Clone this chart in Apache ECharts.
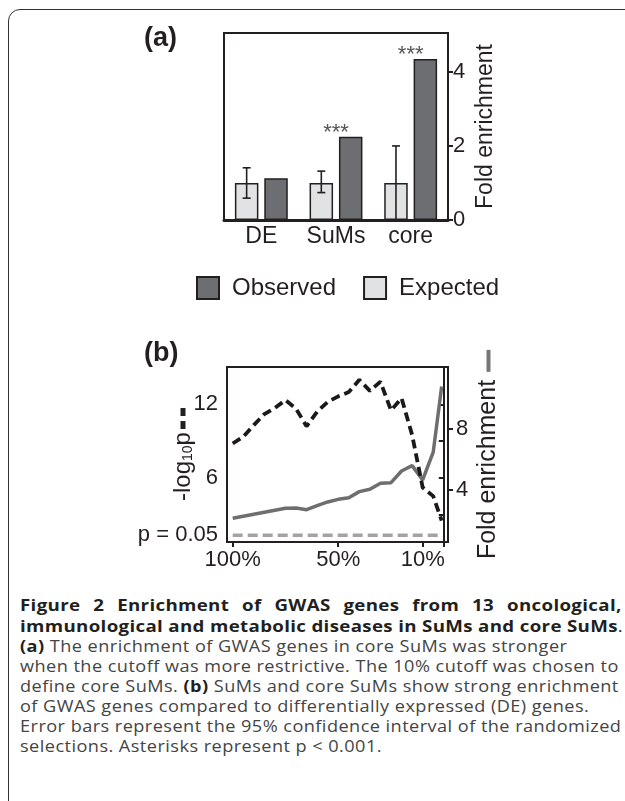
<!DOCTYPE html>
<html><head><meta charset="utf-8">
<script src="https://cdn.jsdelivr.net/npm/echarts@6/dist/echarts.min.js"></script>
<style>
html,body{margin:0;padding:0;background:#fff;width:625px;height:801px;overflow:hidden;position:relative}
#frame{position:absolute;left:7.5px;top:9px;width:720px;height:900px;border:1.6px solid #333;border-radius:12px;box-sizing:border-box}
#chart{position:absolute;left:0;top:0;width:625px;height:590px}
#cap{position:absolute;left:20px;top:594px;width:540px;font-family:'Open Sans',sans-serif;color:#444;transform:scaleX(1.133);transform-origin:0 0}
#cap .b{font-weight:bold;font-size:16.5px;line-height:21px;color:#231f20;width:531px;letter-spacing:0.3px;text-align:justify;text-align-last:justify;white-space:nowrap}
#cap .n{font-size:16px;line-height:20px;letter-spacing:0.4px;white-space:nowrap}
#cap .n b{color:#231f20}
</style></head>
<body>
<div id="frame"></div>
<div id="chart"></div>
<div id="cap">
<div class="b">Figure 2 Enrichment of GWAS genes from 13 oncological,</div>
<div class="b">immunological and metabolic diseases in SuMs and core SuMs<span style="font-weight:normal">.</span></div>
<div class="n"><b>(a)</b> The enrichment of GWAS genes in core SuMs was stronger</div>
<div class="n">when the cutoff was more restrictive. The 10% cutoff was chosen to</div>
<div class="n">define core SuMs. <b>(b)</b> SuMs and core SuMs show strong enrichment</div>
<div class="n">of GWAS genes compared to differentially expressed (DE) genes.</div>
<div class="n">Error bars represent the 95% confidence interval of the randomized</div>
<div class="n">selections. Asterisks represent p &lt; 0.001.</div>
</div>
<script>
// ---- Panel (a) data ----
const categories = ['DE', 'SuMs', 'core'];
const observed = [1.13, 2.25, 4.35];
const expected = [1.0, 1.0, 1.0];
const expectedLow = [0.59, 0.74, 0.0];
const expectedHigh = [1.41, 1.32, 2.0];
const significance = ['', '***', '***'];
const legendNames = ['Observed', 'Expected'];
const foldTicksA = [0, 2, 4];

// ---- Panel (b) data ----
const cutoffs = [100, 95, 90, 85, 80, 75, 70, 65, 60, 55, 50, 45, 40, 35, 30, 25, 20, 15, 10, 5, 1];
const negLogP = [8.8, 9.35, 10.3, 11.2, 11.7, 12.35, 11.65, 10.2, 11.4, 12.2, 12.65, 13.0, 14.0, 13.1, 13.85, 11.5, 12.5, 9.5, 5.2, 4.5, 2.5];
const foldEnrich = [2.13, 2.27, 2.40, 2.53, 2.66, 2.79, 2.81, 2.70, 2.97, 3.21, 3.38, 3.49, 3.89, 4.04, 4.44, 4.48, 5.25, 5.6, 4.66, 6.49, 10.81];
const pThreshold = 1.301;
const cutoffTicks = [100, 50, 10, 0];
const cutoffLabels = [100, 50, 10];
const leftTicks = [3, 6, 9, 12];
const leftLabels = [1.301, 6, 12];
const rightTicks = [4, 8];

const FONT = "'Liberation Sans', Arial, Helvetica, sans-serif";
const INK = '#231f20';
const CLEAR = 'rgba(0,0,0,0)';

const chart = echarts.init(document.getElementById('chart'));
const axisLineStyle = { color: INK, width: 2 };

const option = {
  animation: false,
  textStyle: { fontFamily: FONT, color: INK },
  title: [
    { text: '(a)', left: 144, top: 25, padding: 0, textStyle: { fontFamily: FONT, fontSize: 27, fontWeight: 'bold', color: INK } },
    { text: '(b)', left: 144, top: 340, padding: 0, textStyle: { fontFamily: FONT, fontSize: 27, fontWeight: 'bold', color: INK } }
  ],
  legend: {
    data: legendNames, left: 196, top: 276, padding: 0, icon: 'rect', itemWidth: 22, itemHeight: 22, itemGap: 27,
    textStyle: { fontFamily: FONT, fontSize: 24, color: INK, padding: [0, 0, 0, 8] }
  },
  grid: [
    { left: 224, top: 33, width: 224, height: 187, show: true, borderColor: INK, borderWidth: 2 },
    { left: 227, top: 367, width: 221, height: 175, show: true, borderColor: INK, borderWidth: 2 }
  ],
  xAxis: [
    { type: 'category', gridIndex: 0, data: categories,
      axisLine: { lineStyle: { color: INK, width: 3 } }, axisTick: { show: false },
      axisLabel: { interval: 0, hideOverlap: false, fontSize: 23, color: INK, margin: 5, fontFamily: FONT } },
    { type: 'value', gridIndex: 1, inverse: true, min: -2, max: 102.7,
      axisLine: { lineStyle: axisLineStyle },
      axisTick: { show: true, length: 5, lineStyle: axisLineStyle, customValues: cutoffTicks },
      axisLabel: { customValues: cutoffLabels, formatter: v => v + '%', fontSize: 22, color: INK, margin: 7, fontFamily: FONT },
      splitLine: { show: false } }
  ],
  yAxis: [
    { type: 'value', gridIndex: 0, position: 'right', min: 0, max: 5.05,
      axisLine: { show: true, lineStyle: axisLineStyle },
      axisTick: { show: true, length: 5, lineStyle: axisLineStyle, customValues: foldTicksA },
      axisLabel: { customValues: foldTicksA, fontSize: 22, color: INK, margin: 5, fontFamily: FONT },
      splitLine: { show: false },
      name: 'Fold enrichment', nameLocation: 'middle', nameRotate: 90, nameGap: 26, nameMoveOverlap: false,
      nameTextStyle: { fontSize: 23, color: INK, fontFamily: FONT } },
    { type: 'value', gridIndex: 1, position: 'left', min: 0.75, max: 15.05,
      axisLine: { show: true, lineStyle: axisLineStyle },
      axisTick: { show: true, length: 5, lineStyle: axisLineStyle, customValues: leftTicks },
      axisLabel: { customValues: leftLabels, formatter: v => (v === pThreshold ? 'p = 0.05' : String(v)), fontSize: 22, color: INK, margin: 9, fontFamily: FONT },
      splitLine: { show: false },
      name: '-log{s|10}p{sp|a}{d|a}{sp2|a}{d|a}', nameLocation: 'middle', nameRotate: 90, nameGap: 32, nameMoveOverlap: false,
      nameTextStyle: { fontSize: 24, color: INK, fontFamily: FONT,
        rich: { s: { fontSize: 14, verticalAlign: 'bottom', fontFamily: FONT, color: INK },
                sp: { width: 3, fontSize: 5, color: CLEAR }, sp2: { width: 5, fontSize: 5, color: CLEAR },
                d: { width: 8, height: 5, fontSize: 5, lineHeight: 5, color: CLEAR, backgroundColor: INK, verticalAlign: 'middle' } } } },
    { type: 'value', gridIndex: 1, position: 'right', min: 0.57, max: 12.1,
      axisLine: { show: true, lineStyle: axisLineStyle },
      axisTick: { show: true, length: 5, lineStyle: axisLineStyle, customValues: rightTicks },
      axisLabel: { customValues: rightTicks, fontSize: 22, color: INK, margin: 8, fontFamily: FONT },
      splitLine: { show: false },
      name: 'Fold enrichment{sp|a}{g|a}', nameLocation: 'middle', nameRotate: 90, nameGap: 28, nameMoveOverlap: false,
      nameTextStyle: { fontSize: 25, color: INK, fontFamily: FONT,
        rich: { sp: { width: 8, fontSize: 5, color: CLEAR },
                g: { width: 22, height: 4, fontSize: 4, lineHeight: 4, color: CLEAR, backgroundColor: '#777', verticalAlign: 'middle' } } } }
  ],
  series: [
    { name: 'Expected', type: 'bar', xAxisIndex: 0, yAxisIndex: 0, data: expected,
      barWidth: 23.5, barGap: '25%',
      itemStyle: { color: '#e1e2e4', borderColor: INK, borderWidth: 1.5 } },
    { name: 'Observed', type: 'bar', xAxisIndex: 0, yAxisIndex: 0, data: observed,
      barWidth: 23.5, barGap: '25%',
      itemStyle: { color: '#6d6e71', borderColor: INK, borderWidth: 1.5 } },
    { type: 'custom', xAxisIndex: 0, yAxisIndex: 0, z: 5,
      data: categories.map((c, i) => [i, expectedLow[i], expectedHigh[i], observed[i]]),
      renderItem: function (params, api) {
        const i = api.value(0);
        const lo = api.coord([i, api.value(1)]);
        const hi = api.coord([i, api.value(2)]);
        const ob = api.coord([i, api.value(3)]);
        const layout = api.barLayout({ barWidth: 23.5, barGap: '25%', count: 2 });
        const x = lo[0] + layout[0].offsetCenter;
        const cap = 4;
        const st = { stroke: INK, lineWidth: 1.6 };
        const kids = [
          { type: 'line', shape: { x1: x, y1: lo[1], x2: x, y2: hi[1] }, style: st },
          { type: 'line', shape: { x1: x - cap, y1: hi[1], x2: x + cap, y2: hi[1] }, style: st },
          { type: 'line', shape: { x1: x - cap, y1: lo[1], x2: x + cap, y2: lo[1] }, style: st }
        ];
        if (significance[params.dataIndex]) {
          kids.push({ type: 'text', style: { text: significance[params.dataIndex], x: ob[0], y: ob[1] - 4,
            textAlign: 'center', textVerticalAlign: 'middle', fontSize: 22, fontFamily: FONT, fill: '#555' } });
        }
        return { type: 'group', children: kids };
      } },
    { type: 'line', xAxisIndex: 1, yAxisIndex: 1, symbol: 'none', silent: true,
      data: [[cutoffs[0], pThreshold], [cutoffs[cutoffs.length - 1], pThreshold]],
      lineStyle: { color: '#a3a3a3', width: 3.5, type: [10, 5] } },
    { type: 'line', xAxisIndex: 1, yAxisIndex: 2, symbol: 'none', silent: true,
      data: cutoffs.map((c, i) => [c, foldEnrich[i]]),
      lineStyle: { color: '#6e6e6e', width: 3.5 } },
    { type: 'line', xAxisIndex: 1, yAxisIndex: 1, symbol: 'none', silent: true,
      data: cutoffs.map((c, i) => [c, negLogP[i]]),
      lineStyle: { color: '#1a1a1a', width: 3.8, type: [9, 5] } }
  ]
};
chart.setOption(option);
</script>
</body></html>
